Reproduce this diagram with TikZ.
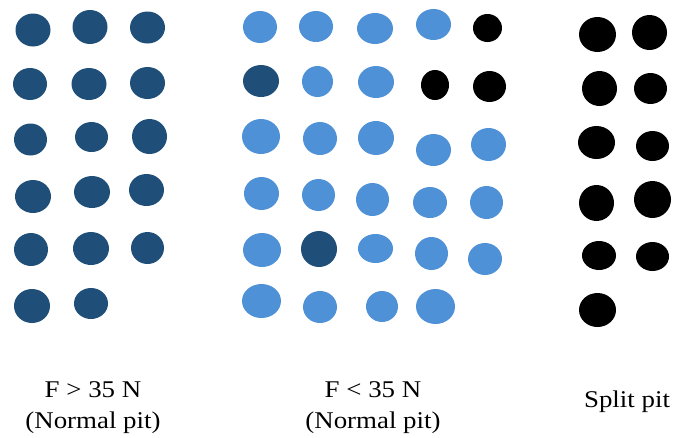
\documentclass[tikz,border=0pt]{standalone}
\usepackage{fontspec}
\setmainfont{Liberation Serif}[FakeStretch=1.12]
\definecolor{darkpit}{HTML}{1F4E79}
\definecolor{lightpit}{HTML}{4F91D6}
\def\fs{\fontsize{24}{31}\selectfont}

\begin{document}
\begin{tikzpicture}[x=1pt,y=-1pt]
\useasboundingbox (0,0) rectangle (676,437);
\foreach \x/\y/\a/\b in {33/30/17.5/16.5, 90/27/17.5/17, 147.5/27.5/17.5/16,
  30/84/17/16, 89/84/17.5/16, 147.5/83/17.5/16,
  30.5/139.5/16.5/16, 91.5/137/16.5/15, 149.5/136.5/17.5/17.5,
  33/196.5/18/16.5, 92/192/18/16, 146.5/190/17.5/16,
  31/249.5/17/16.5, 91/248.5/18/16.5, 147.5/248/16.5/16,
  32/306/18/17, 91/303.5/17/15.5,
  261/81/18/16, 319/249/18/18}
  \fill[darkpit] (\x,\y) ellipse ({\a pt} and {\b pt});
\foreach \x/\y/\a/\b in {260/27/17/16, 316/26.5/17/15.5, 375/28.5/18/15.5, 433.5/24.5/17.5/15.5,
  317.5/81.5/15.5/15.5, 376/82/18/16,
  261/136.5/19/17.5, 320/138.5/17/16.5, 376/138/18/17, 433.5/150/17.5/16, 488.5/144.5/17.5/16.5,
  261.5/193.5/17.5/16.5, 318.5/195/16.5/16, 372.5/199.5/16.5/16.5, 430/202.5/17/15.5, 486.5/202.5/16.5/16.5,
  262/250/19/17, 375.5/248.5/17.5/14.5, 431.5/253.5/16.5/16.5, 485/259/17/16,
  261.5/301/19.5/17, 320/307/17/16, 382/306.5/16/15.5, 435.5/306.5/19.5/17.5}
  \fill[lightpit] (\x,\y) ellipse ({\a pt} and {\b pt});
\foreach \x/\y/\a/\b in {487.5/28/14.5/14, 435/85/14/15, 489.5/86.5/16.5/15.5,
  597.5/34.5/18.5/17.5, 649.5/32.5/17.5/17.5,
  599.5/88.5/17.5/17.5, 650.5/88.5/16.5/15.5,
  596.5/142.5/18.5/16.5, 652.5/146/16.5/15,
  596.5/203/17.5/18, 652.5/199.5/18.5/18.5,
  599/255.5/17/14.5, 652.5/256.5/16.5/14.5,
  597.5/310/18.5/17}
  \fill[black] (\x,\y) ellipse ({\a pt} and {\b pt});
\node[anchor=base,align=center,font=\fs,inner sep=0] (high) at (93,428) {F > 35 N\\(Normal pit)};
\node[anchor=base,align=center,font=\fs,inner sep=0] (low) at (373,428) {F < 35 N\\(Normal pit)};
\node[anchor=base,font=\fs,inner sep=0] (split) at (627,407) {Split pit};
\end{tikzpicture}
\end{document}
